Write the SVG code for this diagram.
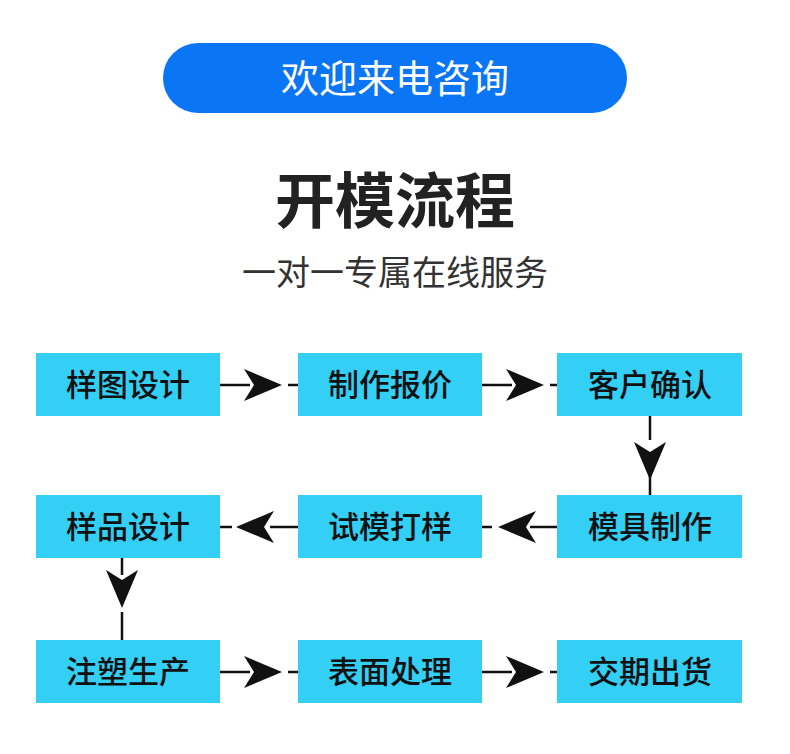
<svg xmlns="http://www.w3.org/2000/svg" width="790" height="754" viewBox="0 0 790 754">
<style>
.box{fill:#33cff5}
.bt{font-family:"Noto Sans CJK SC",sans-serif;font-size:31px;font-weight:500;fill:#111;text-anchor:middle}
.ln{stroke:#111;stroke-width:2.5;fill:none}
.hd{fill:#111}
</style>
<rect width="790" height="754" fill="#fff"/>
<g id="header">
<rect x="163" y="43" width="464" height="70" rx="35" fill="#0a75f5"/>
<text x="395" y="92" font-family="Noto Sans CJK SC,sans-serif" font-size="38" fill="#fff" text-anchor="middle">欢迎来电咨询</text>
<text x="395" y="223" font-family="Noto Sans CJK SC,sans-serif" font-size="60" font-weight="bold" fill="#222" text-anchor="middle">开模流程</text>
<text x="395" y="285" font-family="Noto Sans CJK SC,sans-serif" font-size="34" fill="#333" text-anchor="middle">一对一专属在线服务</text>
</g>
<g id="n1"><rect class="box" x="36" y="353" width="184" height="63"/><text class="bt" x="128" y="396">样图设计</text></g>
<g id="n2"><rect class="box" x="298" y="353" width="184" height="63"/><text class="bt" x="390" y="396">制作报价</text></g>
<g id="n3"><rect class="box" x="557" y="353" width="185" height="63"/><text class="bt" x="650" y="396">客户确认</text></g>
<g id="n4"><rect class="box" x="36" y="495" width="184" height="63"/><text class="bt" x="128" y="538">样品设计</text></g>
<g id="n5"><rect class="box" x="298" y="495" width="184" height="63"/><text class="bt" x="390" y="538">试模打样</text></g>
<g id="n6"><rect class="box" x="557" y="495" width="185" height="63"/><text class="bt" x="650" y="538">模具制作</text></g>
<g id="n7"><rect class="box" x="36" y="640" width="184" height="63"/><text class="bt" x="128" y="683">注塑生产</text></g>
<g id="n8"><rect class="box" x="298" y="640" width="184" height="63"/><text class="bt" x="390" y="683">表面处理</text></g>
<g id="n9"><rect class="box" x="557" y="640" width="185" height="63"/><text class="bt" x="650" y="683">交期出货</text></g>
<g id="connectors">
<defs>
<path id="hr" d="M0,0 L-38,-16 L-28,0 L-38,16 Z"/>
</defs>
<!-- row 1 -->
<path class="ln" d="M220,385H250M288,385H298"/><use href="#hr" class="hd" x="282" y="385"/>
<path class="ln" d="M482,385H512M550,385H557"/><use href="#hr" class="hd" x="544" y="385"/>
<!-- row 3 -->
<path class="ln" d="M220,672H250M288,672H298"/><use href="#hr" class="hd" x="282" y="672"/>
<path class="ln" d="M482,672H512M550,672H557"/><use href="#hr" class="hd" x="544" y="672"/>
<!-- row 2 leftward -->
<path class="ln" d="M557,527H530M492,527H482"/><use href="#hr" class="hd" transform="translate(498,527) rotate(180)"/>
<path class="ln" d="M298,527H270M232,527H220"/><use href="#hr" class="hd" transform="translate(236,527) rotate(180)"/>
<!-- verticals -->
<path class="ln" d="M650,416V440M650,475V495"/><use href="#hr" class="hd" transform="translate(650,480) rotate(90)"/>
<path class="ln" d="M122,558V575M122,612V640"/><use href="#hr" class="hd" transform="translate(122,608) rotate(90)"/>
</g>
</svg>
